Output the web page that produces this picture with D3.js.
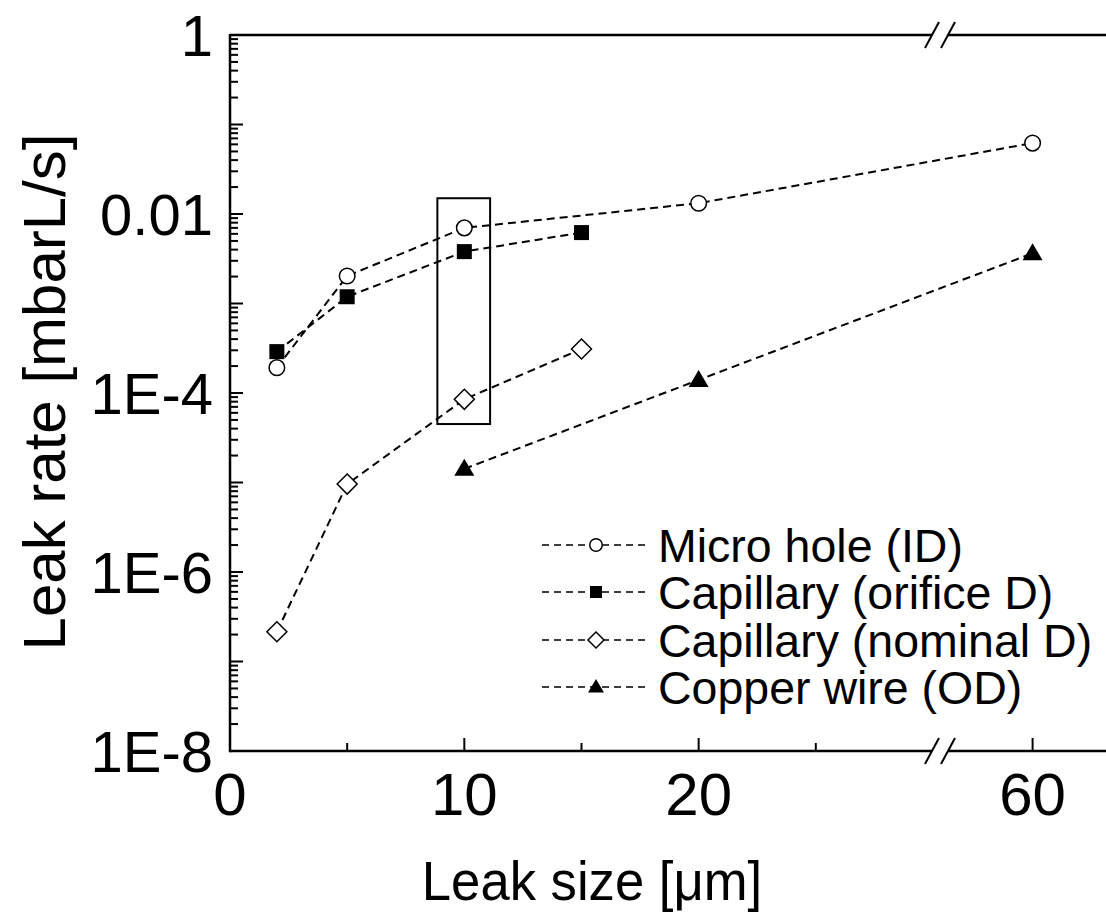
<!DOCTYPE html>
<html>
<head>
<meta charset="utf-8">
<script src="https://cdn.jsdelivr.net/npm/d3@7/dist/d3.min.js"></script>
<style>
  html, body { margin: 0; padding: 0; background: #fff; }
  svg { display: block; font-family: Arial, "Liberation Sans", sans-serif; }
</style>
</head>
<body>
<svg id="chart" width="1106" height="921"></svg>
<script>
// ---------- data ----------
const seriesNames = ["Micro hole (ID)", "Capillary (orifice D)", "Capillary (nominal D)", "Copper wire (OD)"];
const seriesSymbols = ["circle", "square", "diamond", "triangle"];
const microHoleX = [2, 5, 10, 20, 60];
const microHoleY = [1.92e-4, 2.03e-3, 7.0e-3, 1.32e-2, 6.2e-2];
const capOrificeX = [2, 5, 10, 15];
const capOrificeY = [2.9e-4, 1.19e-3, 3.8e-3, 6.2e-3];
const capNominalX = [2, 5, 10, 15];
const capNominalY = [2.15e-7, 9.6e-6, 8.5e-5, 3.1e-4];
const copperX = [10, 20, 60];
const copperY = [1.42e-5, 1.4e-4, 3.64e-3];
const yTickValues = [1, 1e-2, 1e-4, 1e-6, 1e-8];
const yTickLabels = ["1", "0.01", "1E-4", "1E-6", "1E-8"];
const xMajorTicks = [0, 10, 20, 60];
const xMajorLabels = ["0", "10", "20", "60"];
const xMinorTicks = [5, 15, 25];
const highlightX = [8.85, 11.1];
const highlightY = [4.5e-5, 0.015];
const xTitle = "Leak size [μm]";
const yTitle = "Leak rate [mbarL/s]";

// ---------- layout ----------
const svg = d3.select("#chart");
const pL = 230, pR = 1108, pT = 35, pB = 751;
const breakPx = 940;

// broken x axis: linear 0..30.3 on the left, 56..63.2 on the right
const x = d3.scaleLinear().domain([0, 30.3, 56.07, 63.2]).range([pL, breakPx, breakPx, pR]);
const y = d3.scaleLog().domain([1e-8, 1]).range([pB, pT]);

const series = [
  { name: seriesNames[0], sym: seriesSymbols[0], xs: microHoleX, ys: microHoleY },
  { name: seriesNames[1], sym: seriesSymbols[1], xs: capOrificeX, ys: capOrificeY },
  { name: seriesNames[2], sym: seriesSymbols[2], xs: capNominalX, ys: capNominalY },
  { name: seriesNames[3], sym: seriesSymbols[3], xs: copperX, ys: copperY }
];

function drawMarker(g, sym, cx, cy, k) {
  k = k || 1;
  if (sym === "circle") {
    g.append("circle").attr("cx", cx).attr("cy", cy).attr("r", 7.8 * k)
      .attr("fill", "#fff").attr("stroke", "#000").attr("stroke-width", 1.5);
  } else if (sym === "square") {
    g.append("rect").attr("x", cx - 7.5 * k).attr("y", cy - 7.5 * k).attr("width", 15 * k).attr("height", 15 * k)
      .attr("fill", "#000");
  } else if (sym === "diamond") {
    g.append("path").attr("d", `M${cx},${cy - 10 * k}L${cx + 10 * k},${cy}L${cx},${cy + 10 * k}L${cx - 10 * k},${cy}Z`)
      .attr("fill", "#fff").attr("stroke", "#000").attr("stroke-width", 1.5);
  } else if (sym === "triangle") {
    g.append("path").attr("d", `M${cx},${cy - 10 * k}L${cx + 10 * k},${cy + 7 * k}L${cx - 10 * k},${cy + 7 * k}Z`)
      .attr("fill", "#000");
  }
}

// ---------- axes frame ----------
const axisG = svg.append("g").attr("stroke", "#000").attr("stroke-width", 2.5).attr("fill", "none");
axisG.append("line").attr("x1", pL).attr("x2", pL).attr("y1", pT - 1).attr("y2", pB + 1.2);
axisG.append("line").attr("x1", pL).attr("x2", breakPx - 8).attr("y1", pB).attr("y2", pB);
axisG.append("line").attr("x1", breakPx + 8).attr("x2", pR).attr("y1", pB).attr("y2", pB);
axisG.append("line").attr("x1", pL).attr("x2", breakPx - 8).attr("y1", pT).attr("y2", pT);
axisG.append("line").attr("x1", breakPx + 8).attr("x2", pR).attr("y1", pT).attr("y2", pT);
[pT, pB].forEach(yy => {
  [-8, 8].forEach(dx => {
    axisG.append("line").attr("stroke-width", 2)
      .attr("x1", breakPx + dx - 7).attr("y1", yy + 13)
      .attr("x2", breakPx + dx + 7).attr("y2", yy - 13);
  });
});

// y ticks (inside)
const yMinor = [];
for (let e = -8; e < 0; e++) for (let m = 2; m <= 9; m++) yMinor.push(m * Math.pow(10, e));
const tickG = svg.append("g").attr("stroke", "#000").attr("stroke-width", 2);
d3.range(-8, 1).forEach(e => {
  const v = Math.pow(10, e);
  tickG.append("line").attr("x1", pL).attr("x2", pL + 13).attr("y1", y(v)).attr("y2", y(v));
});
yMinor.forEach(v => {
  tickG.append("line").attr("x1", pL).attr("x2", pL + 8).attr("y1", y(v)).attr("y2", y(v));
});
xMajorTicks.filter(v => v > 0).forEach(v => {
  tickG.append("line").attr("x1", x(v)).attr("x2", x(v)).attr("y1", pB).attr("y2", pB - 13);
});
xMinorTicks.forEach(v => {
  tickG.append("line").attr("x1", x(v)).attr("x2", x(v)).attr("y1", pB).attr("y2", pB - 8);
});

// tick labels
const labelG = svg.append("g").attr("fill", "#000");
yTickValues.forEach((v, i) => {
  labelG.append("text").attr("x", 213).attr("y", y(v) + 21)
    .attr("text-anchor", "end").attr("font-size", 58).text(yTickLabels[i]);
});
xMajorTicks.forEach((v, i) => {
  labelG.append("text").attr("x", x(v)).attr("y", 815)
    .attr("text-anchor", "middle").attr("font-size", 60).text(xMajorLabels[i]);
});

// axis titles
labelG.append("text").attr("transform", "translate(65,392) rotate(-90)")
  .attr("text-anchor", "middle").attr("font-size", 60).text(yTitle);
labelG.append("text").attr("transform", "translate(592,900) scale(0.94,1)")
  .attr("text-anchor", "middle").attr("font-size", 56).text(xTitle);

// highlight box
svg.append("rect")
  .attr("x", x(highlightX[0])).attr("y", y(highlightY[1]))
  .attr("width", x(highlightX[1]) - x(highlightX[0]))
  .attr("height", y(highlightY[0]) - y(highlightY[1]))
  .attr("fill", "none").attr("stroke", "#000").attr("stroke-width", 2);

// series lines and markers
const lineGen = d3.line().x(d => x(d[0])).y(d => y(d[1]));
const plotG = svg.append("g");
series.forEach(s => {
  const pts = s.xs.map((xv, i) => [xv, s.ys[i]]);
  plotG.append("path").attr("d", lineGen(pts)).attr("fill", "none")
    .attr("stroke", "#000").attr("stroke-width", 2).attr("stroke-dasharray", "8,5");
});
series.forEach(s => {
  s.xs.forEach((xv, i) => drawMarker(plotG, s.sym, x(xv), y(s.ys[i])));
});

// legend
const legendRows = [545, 592, 640, 687];
const legG = svg.append("g");
series.forEach((s, i) => {
  const ly = legendRows[i];
  legG.append("line").attr("x1", 542).attr("x2", 650).attr("y1", ly).attr("y2", ly)
    .attr("stroke", "#000").attr("stroke-width", 1.5).attr("stroke-dasharray", "7,5");
  drawMarker(legG, s.sym, 596, ly, 0.8);
  legG.append("text").attr("x", 658).attr("y", ly + 17)
    .attr("font-size", 46.5).attr("fill", "#000").text(s.name);
});
</script>
</body>
</html>
